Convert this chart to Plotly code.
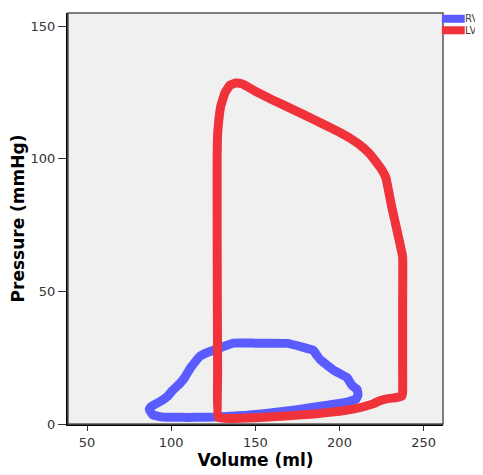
import plotly.graph_objects as go

# Right ventricle pressure-volume loop
rv_volume = [89, 87, 88, 93.5, 98, 101, 105.5, 108, 111.5, 117, 121, 125, 131, 137, 150, 160, 169, 178, 184.5,
             187, 189, 196.5, 204.5, 206, 207.5, 210.5, 211, 210, 204.5, 195, 184.5, 175, 165, 155, 145,
             135, 125, 115, 105.5, 95, 89]
rv_pressure = [3.5, 5.5, 6.5, 8.5, 10.5, 12.8, 15.5, 17.5, 21.2, 25.5, 26.8, 27.8, 29.2, 30.5, 30.5, 30.5, 30.4, 29,
               27.8, 25.5, 24, 20.3, 17.5, 16, 14.5, 13, 11, 9.5, 8.3, 7.3, 6.3, 5.4, 4.6, 3.9, 3.3,
               2.9, 2.6, 2.5, 2.5, 2.6, 3.5]

# Left ventricle pressure-volume loop
lv_volume = [128, 127.6, 127.4, 127.3, 127.3, 127.5, 128.2, 129.5, 132, 135, 138.5, 142, 150, 160, 170, 180,
             190, 200, 207, 212, 217, 221, 225, 227.5, 231, 234.5, 237.5, 237.5, 237.5, 237.5, 237, 234,
             228, 224, 220, 210, 200, 185, 170, 150, 135, 128]
lv_pressure = [2.5, 20, 50, 80, 100, 108, 114, 120, 125, 127.8, 128.6, 128.3, 125.5, 122.3, 119.3, 116.3,
               113.2, 110, 107.5, 105.3, 102.5, 99.5, 96, 93, 82, 72, 63, 45, 25, 12, 10.5, 10,
               9.5, 8.8, 7.6, 5.9, 4.8, 3.8, 3.1, 2.4, 2.1, 2.5]

x_ticks = [50, 100, 150, 200, 250]
y_ticks = [0, 50, 100, 150]

blue = "#5b5cff"
red = "#f0323a"

fig = go.Figure()
fig.add_trace(go.Scatter(x=rv_volume, y=rv_pressure, mode="lines", name="RV",
                         line=dict(color=blue, width=9, shape="spline", smoothing=0.3),
                         showlegend=False))
fig.add_trace(go.Scatter(x=lv_volume, y=lv_pressure, mode="lines", name="LV",
                         line=dict(color=red, width=9, shape="spline", smoothing=0.3),
                         showlegend=False))

# frame around the plot area (top/right grey)
fig.add_shape(type="rect", xref="paper", yref="paper", x0=0, y0=0, x1=1, y1=1,
              line=dict(color="#555555", width=1.5), layer="above")

# manual legend
for i, (nm, col) in enumerate([("RV", blue), ("LV", red)]):
    yy = 0.986 - i * 0.028
    fig.add_shape(type="line", xref="paper", yref="paper", x0=0.997, x1=1.058, y0=yy, y1=yy,
                  line=dict(color=col, width=8))
    fig.add_annotation(xref="paper", yref="paper", x=1.058, y=yy, text=nm, showarrow=False,
                       xanchor="left", yanchor="middle", xshift=-2,
                       font=dict(family="DejaVu Sans", size=10, color="#444444"))

fig.update_layout(
    width=475, height=467,
    margin=dict(l=60, r=40, t=5, b=51, autoexpand=False),
    paper_bgcolor="white",
    plot_bgcolor="#f0f0f0",
    font=dict(family="DejaVu Sans", color="#333333"),
    xaxis=dict(range=[38.7, 261.5], tickvals=x_ticks, ticks="outside", ticklen=5,
               tickcolor="#333333", showgrid=False, zeroline=False, automargin=False,
               showline=True, linecolor="black", linewidth=2,
               tickfont=dict(size=13, color="#333333"),
               title=dict(text="<b>Volume (ml)</b>", font=dict(size=17, color="black"), standoff=4)),
    yaxis=dict(range=[0, 155], tickvals=y_ticks, ticks="outside", ticklen=8,
               tickcolor="#333333", showgrid=False, zeroline=False, automargin=False,
               showline=True, linecolor="black", linewidth=2,
               tickfont=dict(size=13, color="#333333"),
               title=dict(text="<b>Pressure (mmHg)</b>", font=dict(size=17, color="black"), standoff=6)),
)

fig.write_html("out.html")
